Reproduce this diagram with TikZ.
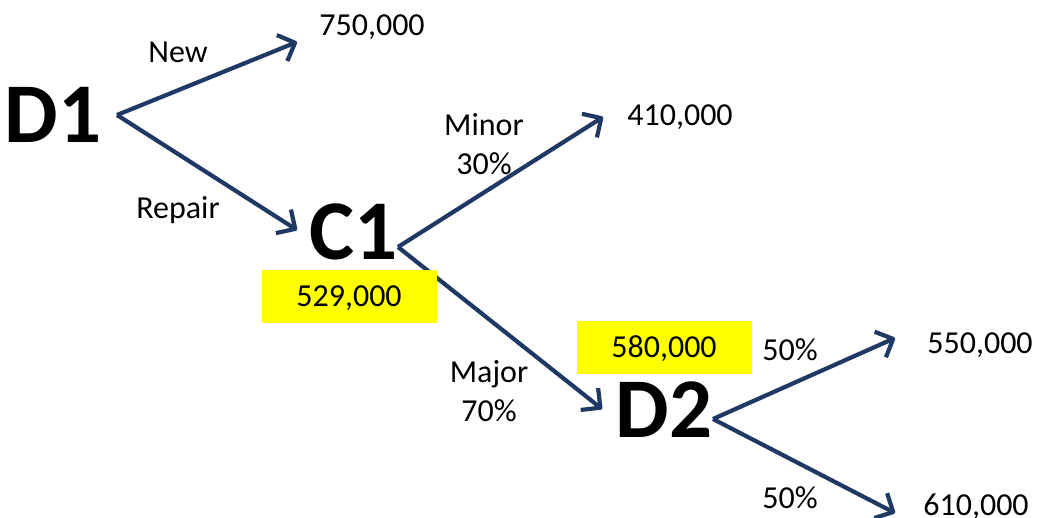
\documentclass[tikz,border=0pt]{standalone}
\usepackage{fontspec}
\setmainfont{Carlito}
\usepackage{xcolor}
\usetikzlibrary{arrows.meta}

\definecolor{branchblue}{HTML}{1F3864}
\definecolor{valyellow}{HTML}{FFFF00}

\begin{document}
\begin{tikzpicture}[x=1pt, y=-1pt,
  branch/.style={draw=branchblue, line width=4.2pt, line join=round,
    -{Straight Barb[length=14pt,width=28pt,line join=round]}},
  bigname/.style={font=\fontsize{85}{85}\selectfont\bfseries, inner sep=0pt, text height=55pt, text depth=0pt},
  value/.style={font=\fontsize{32}{39}\selectfont, inner sep=0pt, text height=20pt, text depth=0pt},
  valbox/.style={value, fill=valyellow, minimum width=175pt, minimum height=53pt},
  tag/.style={font=\fontsize{32}{39}\selectfont, inner sep=0pt, align=center}]
\useasboundingbox (0,0) rectangle (1039,517);

% fork points and arrow tips
\coordinate (d1fork) at (117,115);
\coordinate (c1fork) at (398,247);
\coordinate (d2fork) at (713,419);
\coordinate (newtip) at (297,42);
\coordinate (repairtip) at (297,230);
\coordinate (minortip) at (603,117);
\coordinate (majortip) at (602,409);
\coordinate (uppertip) at (895,338);
\coordinate (lowertip) at (895,513);

\draw[branch] (d1fork) -- (newtip);
\draw[branch] (d1fork) -- (repairtip);
\draw[branch] (c1fork) -- (minortip);
\draw[branch] (c1fork) -- (majortip);
\draw[branch] (d2fork) -- (uppertip);
\draw[branch] (d2fork) -- (lowertip);

% decision and chance nodes
\node[bigname] (d1) at (53,115) {D1};
\node[bigname] (c1) at (354,232) {C1};
\node[bigname] (d2) at (664,410) {D2};

\node[valbox] (c1val) at (349,296) {529,000};
\node[valbox] (d2val) at (664,347) {580,000};

% payoffs
\node[value] (newval) at (372,25) {750,000};
\node[value] (minorval) at (680,115) {410,000};
\node[value] (upperval) at (980,343) {550,000};
\node[value] (lowerval) at (976,505) {610,000};

% branch labels
\node[tag] (newlbl) at (178,52) {New};
\node[tag] (repairlbl) at (178,210) {Repair};
\node[tag] (minorlbl) at (484,144) {Minor\\30\%};
\node[tag] (majorlbl) at (489,391) {Major\\70\%};
\node[tag] (upperlbl) at (790,350) {50\%};
\node[tag] (lowerlbl) at (790,498) {50\%};

\end{tikzpicture}
\end{document}
